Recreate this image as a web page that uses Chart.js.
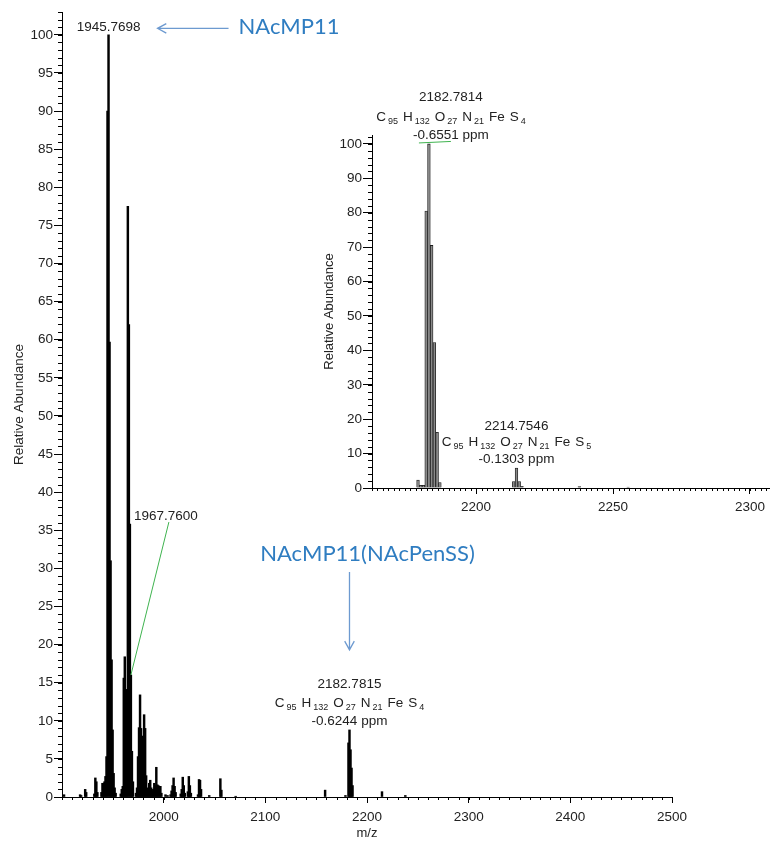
<!DOCTYPE html>
<html><head><meta charset="utf-8">
<script src="https://cdn.jsdelivr.net/npm/chart.js@4.4.1/dist/chart.umd.min.js"></script>
<style>
html,body{margin:0;padding:0;background:#fff;}
#wrap{position:relative;width:770px;height:842px;overflow:hidden;}
#main{position:absolute;left:0;top:0;width:770px;height:842px;}
#inset{position:absolute;left:300px;top:80px;width:470px;height:445px;}
</style></head><body>
<div id="wrap">
<canvas id="main" width="770" height="842"></canvas>
<canvas id="inset" width="470" height="445"></canvas>
</div>
<script>
// ---------- DATA ----------
const mainMz = [1902.0,1917.8,1918.8,1922.8,1923.8,1931.8,1932.8,1933.8,1934.8,1938.8,1939.8,1940.8,
  1941.77,1942.77,1943.77,1944.77,1945.77,1946.77,1947.77,1948.77,1949.77,1950.77,1951.77,1952.77,
  1957.77,1958.77,1959.77,1960.77,1961.77,1962.77,1963.77,1964.77,1965.77,1966.77,1967.76,1968.77,1969.77,
  1972.77,1973.77,1974.77,1975.77,1976.77,1977.77,1978.77,1979.77,1980.77,1981.77,1982.77,1983.77,1984.77,
  1985.77,1986.77,1987.77,1988.77,1989.77,1990.77,1991.77,1992.77,1993.77,1994.77,1995.77,1996.77,1997.77,
  2001.8,2003.8,2006.77,2007.77,2008.77,2009.77,2010.77,2011.77,2016.77,2017.77,2018.77,2019.77,2020.77,
  2023.77,2024.77,2025.77,2026.77,2033.77,2034.77,2035.77,2036.77,2044.8,2055.77,2056.77,2070.8,
  2158.8,2178.8,2181.78,2182.78,2183.78,2184.78,2185.78,2214.75,2237.7];
const mainAbundance = [0.3,0.3,0.2,1.0,0.6,0.4,2.5,2.0,0.6,0.6,1.8,1.8,
  2.0,2.7,5.3,90,100,59.7,31,18,8.8,3.1,1.2,0.5,
  0.4,1.0,1.4,15.6,18.4,14.1,14.1,77.5,62,35.8,16,6,2,
  0.5,1.2,5.3,9.1,13.4,9.0,8.0,6.2,10.8,9.0,2.8,1.2,0.6,
  1.8,2.2,1.2,0.8,1.0,1.8,1.5,3.9,1.6,1.5,1.4,1.4,0.5,
  0.3,0.2,0.3,0.8,1.5,2.5,1.4,0.6,0.4,1.0,2.6,1.5,0.5,
  0.7,2.7,1.5,0.5,0.3,2.3,2.2,1.0,0.2,2.4,0.9,0.1,
  0.9,0.2,7.1,8.8,6.2,3.8,1.5,0.7,0.2];
const mainXTicks = [2000,2100,2200,2300,2400,2500];
const mainYTicks = [0,5,10,15,20,25,30,35,40,45,50,55,60,65,70,75,80,85,90,95,100];

const insetMz = [2178.8,2179.8,2180.8,2181.78,2182.78,2183.78,2184.78,2185.78,2186.78,
  2213.75,2214.75,2215.75,2216.75,2237.7,2255.5];
const insetAbundance = [2.3,0.8,0.8,80.5,100,70.5,42.3,16.2,1.6,
  1.9,5.8,1.9,0.5,0.4,0.3];
const insetXTicks = [2200,2250,2300];
const insetYTicks = [0,10,20,30,40,50,60,70,80,90,100];

const formulaS4 = [['C','95'],['H','132'],['O','27'],['N','21'],['Fe',''],['S','4']];
const formulaS5 = [['C','95'],['H','132'],['O','27'],['N','21'],['Fe',''],['S','5']];

// ---------- HELPERS ----------
const FONT = '"Liberation Sans", Arial, sans-serif';
const BLUE_FONT = 'Lato, "Open Sans", sans-serif';
const TXT = '#222';
const BLUE = '#2f7dc1';
const ARROW = '#6d9ad0';
const GREEN = '#3fb34f';

function drawFormula(ctx, parts, cx, baseline, size) {
  const big = size + 'px ' + FONT, small = Math.round(size * 0.68) + 'px ' + FONT;
  const gapSub = 2, gapGroup = 5;
  let w = 0; const ws = [];
  parts.forEach((p, i) => {
    ctx.font = big; const wl = ctx.measureText(p[0]).width;
    ctx.font = small; const wsub = p[1] ? ctx.measureText(p[1]).width : 0;
    ws.push([wl, wsub]);
    w += wl + (p[1] ? gapSub + wsub : 0) + (i < parts.length - 1 ? gapGroup : 0);
  });
  let x = cx - w / 2;
  ctx.textAlign = 'left'; ctx.textBaseline = 'alphabetic';
  parts.forEach((p, i) => {
    ctx.font = big; ctx.fillText(p[0], x, baseline); x += ws[i][0];
    if (p[1]) { x += gapSub; ctx.font = small; ctx.fillText(p[1], x, baseline + 3); x += ws[i][1]; }
    x += gapGroup;
  });
}
function drawArrow(ctx, x1, y1, x2, y2, head) {
  const a = Math.atan2(y2 - y1, x2 - x1);
  ctx.beginPath();
  ctx.moveTo(x1, y1); ctx.lineTo(x2, y2);
  ctx.moveTo(x2 - head * Math.cos(a - 0.5), y2 - head * Math.sin(a - 0.5));
  ctx.lineTo(x2, y2);
  ctx.lineTo(x2 - head * Math.cos(a + 0.5), y2 - head * Math.sin(a + 0.5));
  ctx.stroke();
}
function text(ctx, s, x, y, size, align, color, family) {
  ctx.font = size + 'px ' + (family || FONT);
  ctx.fillStyle = color || TXT;
  ctx.textAlign = align || 'center';
  ctx.textBaseline = 'alphabetic';
  ctx.fillText(s, x, y);
}

const minorTicksPlugin = {
  id: 'minorTicks',
  afterDraw(chart, args, opts) {
    const ctx = chart.ctx;
    ctx.save(); ctx.strokeStyle = '#000'; ctx.lineWidth = 1;
    ctx.beginPath();
    for (const spec of opts.specs) {
      const s = chart.scales[spec.axis];
      const n = Math.round((spec.to - spec.from) / spec.step);
      for (let k = 0; k <= n; k++) {
        const v = spec.from + k * spec.step;
        const p = Math.round(s.getPixelForValue(v)) + 0.5;
        if (s.isHorizontal()) { ctx.moveTo(p, s.top); ctx.lineTo(p, s.top + spec.len); }
        else { ctx.moveTo(s.right, p); ctx.lineTo(s.right - spec.len, p); }
      }
    }
    ctx.stroke();
    ctx.restore();
  }
};

const mainAnnot = {
  id: 'mainAnnot',
  afterDraw(chart) {
    const ctx = chart.ctx, xs = chart.scales.x, ys = chart.scales.y;
    ctx.save();
    const p1x = xs.getPixelForValue(1945.7698), p1y = ys.getPixelForValue(100);
    text(ctx, '1945.7698', p1x, p1y - 4, 13.5);
    ctx.strokeStyle = ARROW; ctx.lineWidth = 1.3;
    drawArrow(ctx, p1x + 120, p1y - 6.5, p1x + 49, p1y - 6.5, 10);
    text(ctx, 'NAcMP11', p1x + 130, p1y - 1, 22, 'left', BLUE, BLUE_FONT);
    const p2x = xs.getPixelForValue(1967.76), p2y = ys.getPixelForValue(16);
    text(ctx, '1967.7600', p2x + 3, p2y - 155, 13.5, 'left');
    ctx.strokeStyle = GREEN; ctx.lineWidth = 1;
    ctx.beginPath(); ctx.moveTo(p2x + 38, p2y - 153); ctx.lineTo(p2x, p2y); ctx.stroke();
    const p3x = xs.getPixelForValue(2182.78), p3y = ys.getPixelForValue(8.8);
    text(ctx, 'NAcMP11(NAcPenSS)', p3x + 18, p3y - 169, 22, 'center', BLUE, BLUE_FONT);
    ctx.strokeStyle = ARROW; ctx.lineWidth = 1.3;
    drawArrow(ctx, p3x, p3y - 158, p3x, p3y - 80, 10);
    text(ctx, '2182.7815', p3x, p3y - 42, 13.5);
    ctx.fillStyle = TXT;
    drawFormula(ctx, formulaS4, p3x, p3y - 23, 13.5);
    text(ctx, '-0.6244 ppm', p3x, p3y - 5, 13.5);
    ctx.restore();
  }
};

const insetAnnot = {
  id: 'insetAnnot',
  afterDraw(chart) {
    const ctx = chart.ctx, xs = chart.scales.x, ys = chart.scales.y;
    ctx.save();
    const ax = xs.getPixelForValue(2182.78), ay = ys.getPixelForValue(100);
    const cx = ax + 22;
    text(ctx, '2182.7814', cx, ay - 43, 13.5);
    ctx.fillStyle = TXT;
    drawFormula(ctx, formulaS4, cx, ay - 23, 13.5);
    text(ctx, '-0.6551 ppm', cx, ay - 5, 13.5);
    ctx.strokeStyle = GREEN; ctx.lineWidth = 1;
    ctx.beginPath(); ctx.moveTo(ax - 10, ay - 1); ctx.lineTo(ax + 22, ay - 2.5); ctx.stroke();
    const bx = xs.getPixelForValue(2214.75), by = ys.getPixelForValue(5.8);
    text(ctx, '2214.7546', bx, by - 38, 13.5);
    ctx.fillStyle = TXT;
    drawFormula(ctx, formulaS5, bx, by - 22, 13.5);
    text(ctx, '-0.1303 ppm', bx, by - 5, 13.5);
    ctx.restore();
  }
};

function axisCommon(tickLen, fontSize) {
  return {
    offset: false,
    grid: { offset: false, drawOnChartArea: false, drawTicks: true, tickLength: tickLen, tickColor: '#000', tickWidth: 1 },
    border: { display: true, color: '#000', width: 1 },
    ticks: { autoSkip: false, maxRotation: 0, color: TXT, font: { family: FONT, size: fontSize }, callback: v => String(v) }
  };
}

// ---------- MAIN CHART ----------
const mx = axisCommon(6, 13.5), my = axisCommon(8, 13.5);
new Chart(document.getElementById('main'), {
  type: 'bar',
  data: { datasets: [{ data: mainMz.map((x, i) => ({ x: x, y: mainAbundance[i] })), backgroundColor: '#000', borderWidth: 0, barThickness: 1.8 }] },
  options: {
    responsive: false, animation: false, events: [],
    layout: { padding: { left: 0, top: 12, right: 98, bottom: 0 } },
    plugins: { legend: { display: false }, tooltip: { enabled: false },
      minorTicks: { specs: [ { axis: 'y', from: 0, to: 103, step: 1, len: 4 }, { axis: 'x', from: 1900, to: 2500, step: 10, len: 3 } ] } },
    scales: {
      x: Object.assign(mx, { type: 'linear', min: 1900, max: 2500,
        ticks: Object.assign(mx.ticks, { padding: 6 }),
        afterBuildTicks: s => { s.ticks = mainXTicks.map(v => ({ value: v })); },
        afterFit: s => { s.height = 45; },
        title: { display: true, text: 'm/z', color: TXT, font: { family: FONT, size: 13 }, padding: { top: 0, bottom: 1 } } }),
      y: Object.assign(my, { type: 'linear', min: 0, max: 103,
        ticks: Object.assign(my.ticks, { padding: 1 }),
        afterBuildTicks: s => { s.ticks = mainYTicks.map(v => ({ value: v })); },
        afterFit: s => { s.width = 62; },
        title: { display: true, text: 'Relative Abundance', color: TXT, font: { family: FONT, size: 13.5 }, padding: { top: 11, bottom: 0 } } })
    }
  },
  plugins: [minorTicksPlugin, mainAnnot]
});

// ---------- INSET CHART ----------
const ix = axisCommon(6, 13.5), iy = axisCommon(9, 13.5);
new Chart(document.getElementById('inset'), {
  type: 'bar',
  data: { datasets: [{ data: insetMz.map((x, i) => ({ x: x, y: insetAbundance[i] })), backgroundColor: '#8a8a8a', borderColor: '#1a1a1a', borderWidth: 0.8, borderSkipped: 'bottom', barThickness: 2.7 }] },
  options: {
    responsive: false, animation: false, events: [],
    layout: { padding: { left: 0, top: 55, right: 0, bottom: 0 } },
    plugins: { legend: { display: false }, tooltip: { enabled: false },
      minorTicks: { specs: [ { axis: 'y', from: 0, to: 102, step: 2, len: 4 }, { axis: 'x', from: 2162, to: 2306, step: 2, len: 3 } ] } },
    scales: {
      x: Object.assign(ix, { type: 'linear', min: 2162, max: 2307,
        ticks: Object.assign(ix.ticks, { padding: 5 }),
        afterBuildTicks: s => { s.ticks = insetXTicks.map(v => ({ value: v })); },
        afterFit: s => { s.height = 37; } }),
      y: Object.assign(iy, { type: 'linear', min: 0, max: 102.6,
        ticks: Object.assign(iy.ticks, { padding: 1 }),
        afterBuildTicks: s => { s.ticks = insetYTicks.map(v => ({ value: v })); },
        afterFit: s => { s.width = 72; },
        title: { display: true, text: 'Relative Abundance', color: TXT, font: { family: FONT, size: 13 }, padding: { top: 22, bottom: 0 } } })
    }
  },
  plugins: [minorTicksPlugin, insetAnnot]
});
</script>
</body></html>
